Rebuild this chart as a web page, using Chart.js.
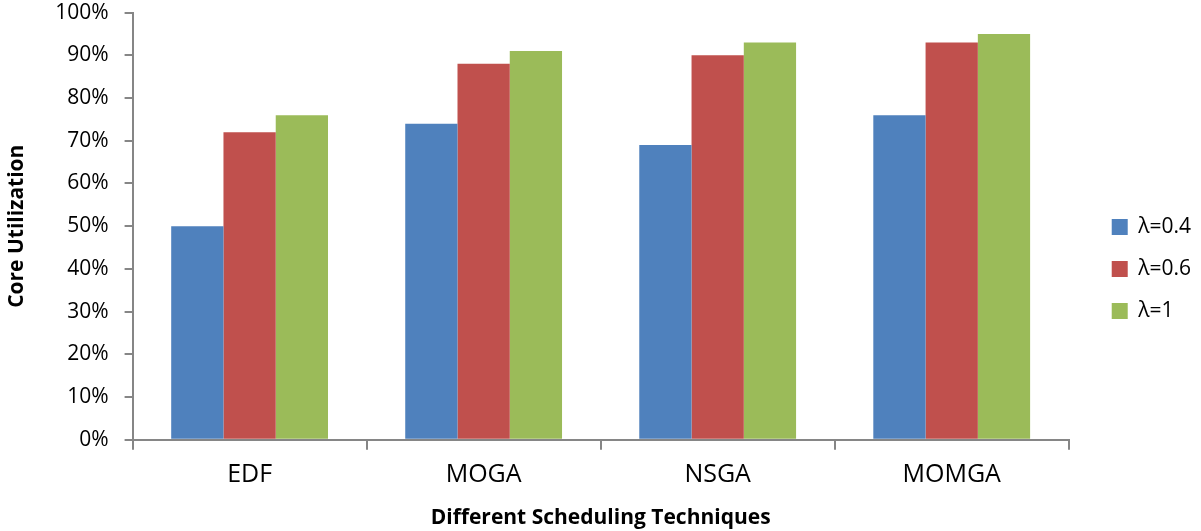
<!DOCTYPE html>
<html>
<head>
<meta charset="utf-8">
<script src="https://cdn.jsdelivr.net/npm/chart.js@4.4.1/dist/chart.umd.min.js"></script>
<style>
  html, body { margin: 0; padding: 0; background: #fff; }
  #wrap { width: 1201px; height: 531px; }
</style>
</head>
<body>
<div id="wrap"><canvas id="c" width="1201" height="531"></canvas></div>
<script>
// Kategorien und Werte (in %)
const categories = ['EDF', 'MOGA', 'NSGA', 'MOMGA'];
const lambda04 = [50, 74, 69, 76];
const lambda06 = [72, 88, 90, 93];
const lambda1  = [76, 91, 93, 95];
const seriesLabels = ['λ=0.4', 'λ=0.6', 'λ=1'];

const FONT = '"Open Sans", "Liberation Sans", sans-serif';
const AXIS = '#868686';
const LEGEND_GAP = 22;
const Y_TICK_PAD = 16;

// Abstand zwischen Plotfläche und Legende vergrößern
const legendGap = {
    id: 'legendGap',
    afterInit(chart) {
        const lg = chart.legend;
        const origFit = lg.fit.bind(lg);
        lg.fit = function () { origFit(); this.width += LEGEND_GAP; };
    },
    afterLayout(chart) {
        chart.legend.left += LEGEND_GAP;
    },
};

const ctx = document.getElementById('c');
new Chart(ctx, {
    type: 'bar',
    data: {
        labels: categories,
        datasets: [
            { label: seriesLabels[0], data: lambda04, backgroundColor: '#4F81BD' },
            { label: seriesLabels[1], data: lambda06, backgroundColor: '#C0504D' },
            { label: seriesLabels[2], data: lambda1,  backgroundColor: '#9BBB59' },
        ],
    },
    plugins: [legendGap],
    options: {
        responsive: false,
        animation: false,
        devicePixelRatio: 1,
        categoryPercentage: 0.67,
        barPercentage: 1.0,
        layout: { padding: { top: 7, right: 0, bottom: 0, left: 4 } },
        plugins: {
            tooltip: { enabled: false },
            legend: {
                position: 'right',
                labels: {
                    color: '#000',
                    font: { family: FONT, size: 21 },
                    boxWidth: 16,
                    boxHeight: 16,
                    padding: 21,
                },
            },
        },
        scales: {
            x: {
                offset: true,
                grid: {
                    offset: true,
                    drawOnChartArea: false,
                    drawTicks: true,
                    tickLength: 10,
                    color: AXIS,
                    lineWidth: 2,
                },
                border: { color: AXIS, width: 2 },
                ticks: { color: '#000', font: { family: FONT, size: 25 }, padding: 10 },
                title: {
                    display: true,
                    text: 'Different Scheduling Techniques',
                    color: '#000',
                    font: { family: FONT, size: 21, weight: 'bold' },
                    padding: { top: 6, bottom: 0 },
                },
            },
            y: {
                min: 0,
                max: 100,
                // tick-padding soll nur horizontal wirken, nicht oben/unten
                afterFit(scale) {
                    scale.paddingTop -= Y_TICK_PAD;
                    scale.paddingBottom -= Y_TICK_PAD;
                },
                grid: {
                    drawOnChartArea: false,
                    drawTicks: true,
                    tickLength: 8,
                    color: AXIS,
                    lineWidth: 2,
                },
                border: { color: AXIS, width: 2 },
                ticks: {
                    stepSize: 10,
                    color: '#000',
                    font: { family: FONT, size: 21 },
                    padding: Y_TICK_PAD,
                    callback: v => v + '%',
                },
                title: {
                    display: true,
                    text: 'Core Utilization',
                    color: '#000',
                    font: { family: FONT, size: 21, weight: 'bold' },
                    padding: { top: 0, bottom: 10 },
                },
            },
        },
    },
});
</script>
</body>
</html>
